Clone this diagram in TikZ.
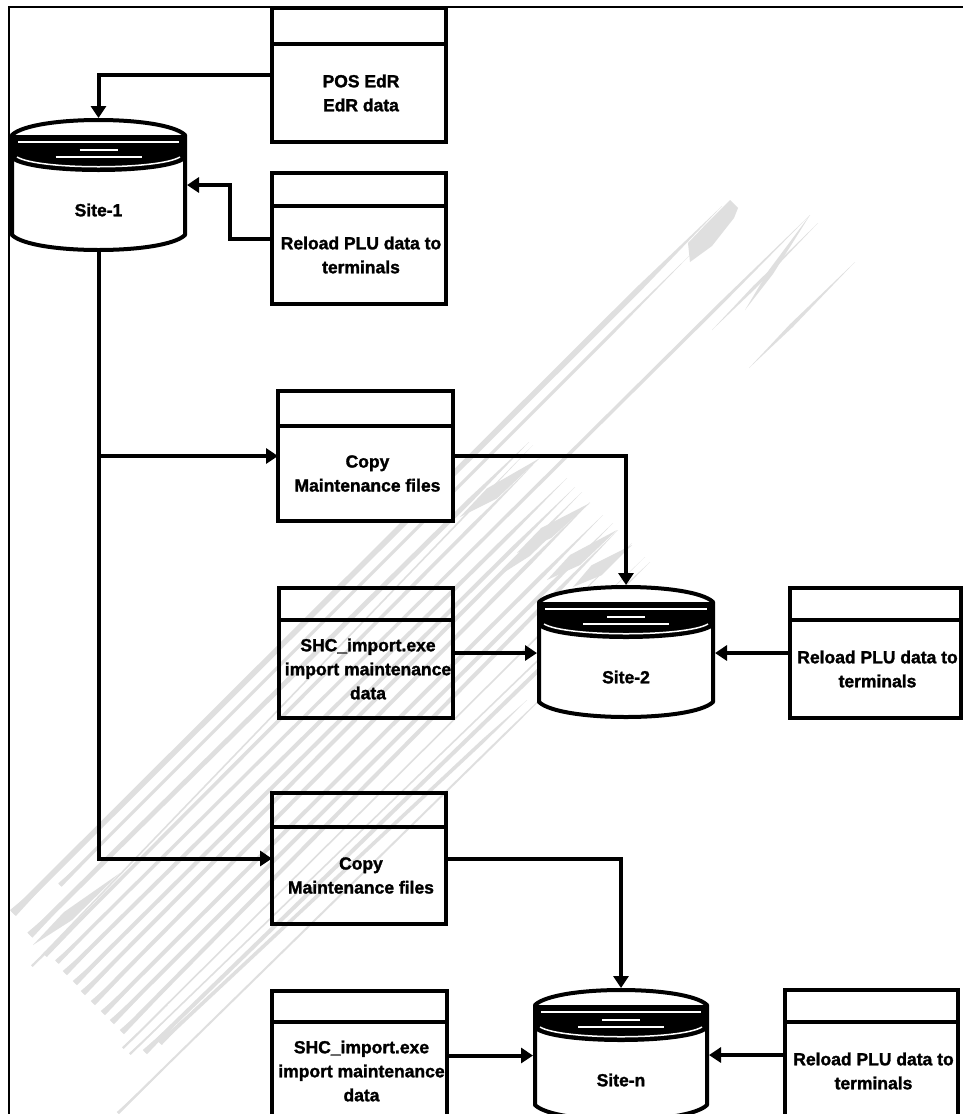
\documentclass[tikz,border=0pt]{standalone}
\usepackage{fontspec}
\setmainfont{Liberation Sans}[BoldFeatures={FakeBold=1.6}]
\usetikzlibrary{arrows.meta}
\definecolor{wm}{HTML}{DFDFDF}
\tikzset{
  x=1pt,y=-1pt,
  ink/.style={line width=4pt,draw=black,line join=miter},
  proc/.style={ink,inner sep=0pt,outer sep=0pt,rectangle},
  caption/.style={font=\bfseries\fontsize{17.5}{24}\selectfont,align=center,inner sep=0pt,text=black},
  flow/.style={ink,-{Triangle[length=12pt,width=15pt]}},
  link/.style={ink},
}
% #1 name, #2 x1, #3 y1, #4 x2, #5 divider y, #6 y2, #7 text, #8 fill
\newcommand{\procbox}[8]{%
  \pgfmathsetmacro{\bw}{#4-#2}\pgfmathsetmacro{\bh}{#6-#3}%
  \node[proc,#8,minimum width=\bw pt,minimum height=\bh pt] (#1) at ({(#2+#4)/2},{(#3+#6)/2}) {};
  \draw[ink] (#2,#5) -- (#4,#5);
  \node[caption] (#1txt) at ({(#2+#4)/2+2},{(#5+#6)/2}) {#7};
}
% #1 name, #2 x1, #3 ytop, #4 x2, #5 ybot, #6 text
\newcommand{\dbcyl}[6]{%
  \pgfmathsetmacro{\cw}{#4-#2}\pgfmathsetmacro{\ch}{#5-#3}%
  \pgfmathsetmacro{\cm}{(#2+#4)/2}%
  \pgfmathsetmacro{\ct}{#3+15}\pgfmathsetmacro{\cb}{#5-15}%
  \pgfmathsetmacro{\kx}{0.12*\cw}%
  \fill[white] (#2,\ct) .. controls ({#2+\kx},{\ct-20}) and ({#4-\kx},{\ct-20}) .. (#4,\ct)
     -- (#4,\cb) .. controls ({#4-\kx},{\cb+20}) and ({#2+\kx},{\cb+20}) .. (#2,\cb) -- cycle;
  \fill[black] (#2,\ct) -- (#4,\ct) -- (#4,{\ct+25}) .. controls ({#4-\kx},{\ct+41}) and ({#2+\kx},{\ct+41}) .. (#2,{\ct+25}) -- cycle;
  \draw[white,line width=2pt] ({#2+6},{\ct+7}) -- ({#4-6},{\ct+7});
  \draw[white,line width=2pt] ({\cm-19},{\ct+15}) -- ({\cm+19},{\ct+15});
  \draw[white,line width=2pt] ({\cm-43},{\ct+22}) -- ({\cm+43},{\ct+22});
  \draw[white,line width=1.5pt] ({#2+5},{\ct+22}) .. controls ({#2+\kx+6},{\ct+35}) and ({#4-\kx-6},{\ct+35}) .. ({#4-5},{\ct+22});
  \draw[ink,line join=round] (#2,\ct) .. controls ({#2+\kx},{\ct-20}) and ({#4-\kx},{\ct-20}) .. (#4,\ct)
     -- (#4,\cb) .. controls ({#4-\kx},{\cb+20}) and ({#2+\kx},{\cb+20}) .. (#2,\cb) -- cycle;
  \node[inner sep=0pt,outer sep=2pt,minimum width=\cw pt,minimum height=\ch pt] (#1) at (\cm,{(#3+#5)/2}) {};
  \node[caption] (#1txt) at (\cm,{#5-40}) {#6};
}
\begin{document}
\begin{tikzpicture}
\useasboundingbox (0,0) rectangle (963,1114);
\clip (0,0) rectangle (963,1114);
\fill[white] (0,0) rectangle (963,1114);
% watermark: start x / start y / end x / end y / half width
\foreach \sx/\sy/\ex/\ey/\h in {
  13/913/722/206/2.8,
  60/885/690/255/1.6,
  30/935/529/442/2.4,
  32/966/533/445/0.8,
  45/955/533/465/1.8,
  57/962/810/215/1.7,
  65/973/567/478/2,
  75/983/575/487/2,
  83/993/582/492/2,
  93/1003/590/502/2,
  103/1013/603/515/2,
  112/1022/613/523/2,
  122/1032/618/530/2,
  123/1048/632/543/0.8,
  130/1054/645/557/0.8,
  145/1052/650/562/2,
  160/1043/527/700/1.8,
  118/1113/560/680/1}{
  \pgfmathsetmacro{\hh}{\h*0.707}
  \pgfmathsetmacro{\gg}{\h*1.05}
  \pgfmathsetmacro{\mx}{\ex-0.12*(\ex-\sx)}
  \pgfmathsetmacro{\my}{\ey-0.12*(\ey-\sy)}
  \fill[wm] ({\sx+\hh},{\sy+\hh}) -- ({\mx+\hh},{\my+\hh}) -- (\ex,\ey) -- ({\mx-\hh},{\my-\hh}) -- ({\sx-\hh},{\sy-\hh}) -- cycle;
  \fill[wm] ({\sx+\gg},{\sy+\gg}) -- ({\sx+45},{\sy-43}) -- ({\sx-\gg},{\sy-\gg}) -- cycle;
}
% wide head of the top stripe
\fill[wm] (708,222) -- (730,200) -- (738,208) -- (734,218) -- (712,246) -- (690,262) -- (688,243) -- cycle;
% swollen stretches along the stripes: start / end / bulge
\foreach \ax/\ay/\bx/\by/\w in {
  460/517/540/458/5,
  517/553/590/503/5,
  547/580/617/530/5,
  573/587/632/545/5,
  33/945/120/873/4,
  500/575/567/520/3,
  712/330/818/223/1.2,
  749/368/855/262/1.4,
  745/310/810/215/2}{
  \pgfmathsetmacro{\qx}{\ax+0.4*(\bx-\ax)}
  \pgfmathsetmacro{\qy}{\ay+0.4*(\by-\ay)}
  \fill[wm] (\ax,\ay) -- ({\qx+\w},{\qy+\w}) -- (\bx,\by) -- ({\qx-\w},{\qy-\w}) -- cycle;
}
% frame
\draw[black,line width=2.5pt] (9,1116) -- (9,7) -- (965,7);
% processes
\procbox{pos}{272}{8}{446}{44}{142}{POS EdR\\EdR data}{}
\procbox{reloadA}{272}{173}{446}{206}{304}{Reload PLU data to\\terminals}{}
\procbox{copyA}{278}{391}{453}{426}{521}{Copy\\Maintenance files}{fill=white}
\procbox{impA}{279}{588}{453}{620}{718}{SHC\_import.exe\\import maintenance\\data}{}
\procbox{reloadB}{790}{588}{961}{620}{718}{Reload PLU data to\\terminals}{}
\procbox{copyB}{272}{793}{446}{827}{924}{Copy\\Maintenance files}{}
\procbox{impB}{272}{991}{447}{1022}{1120}{SHC\_import.exe\\import maintenance\\data}{}
\procbox{reloadC}{785}{990}{958}{1022}{1120}{Reload PLU data to\\terminals}{}
% stores
\dbcyl{siteA}{12}{120}{185}{250}{Site-1}
\dbcyl{siteB}{539}{587}{713}{717}{Site-2}
\dbcyl{siteC}{535}{990}{707}{1120}{Site-n}
% connectors
\coordinate (bend) at (230,200);
\coordinate (tap) at (siteA.south |- copyA.west);
\draw[flow] (pos.west) -| (siteA.north);
\draw[flow] (reloadA.west) -- (bend |- reloadA.west) -- (bend |- siteA.east) -- (siteA.east);
\draw[link] (siteA.south) -- (tap);
\draw[flow] (tap) -- (copyA.west);
\draw[flow] (tap) |- (copyB.west);
\draw[flow] (copyA.east) -| (siteB.north);
\draw[flow] (impA.east) -- (impA.east -| siteB.west);
\draw[flow] (reloadB.west) -- (reloadB.west -| siteB.east);
\draw[flow] (copyB.east) -| (siteC.north);
\draw[flow] (impB.east) -- (impB.east -| siteC.west);
\draw[flow] (reloadC.west) -- (reloadC.west -| siteC.east);
\end{tikzpicture}
\end{document}
